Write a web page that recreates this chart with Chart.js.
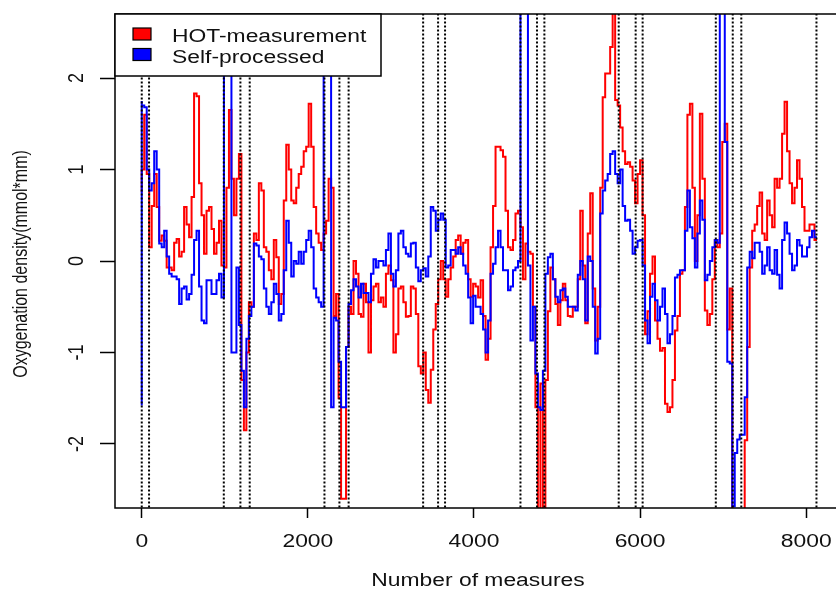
<!DOCTYPE html>
<html>
<head>
<meta charset="utf-8">
<script src="https://cdn.jsdelivr.net/npm/chart.js@4.4.1/dist/chart.umd.min.js"></script>
<style>
  html, body { margin: 0; padding: 0; background: #fff; overflow: hidden; }
  #wrap { width: 836px; height: 590px; overflow: hidden; }
</style>
</head>
<body>
<div id="wrap"><canvas id="chart" width="870" height="590"></canvas></div>
<script>
// samples every 30 measures
const step = 30;
const seriesNames = ["HOT-measurement", "Self-processed"];
const hotValues = [
  0.75, 1.0, 1.6, 0.95, 0.15, 0.6, 0.95, 0.59, 0.22, 0.28,
  0.22, -0.07, -0.07, -0.1, 0.2, 0.24, 0.05, 0.1, 0.59, 0.4,
  0.26, 0.7, 1.83, 1.8, 0.85, 0.5, 0.08, 0.55, 0.59, 0.35,
  0.08, 0.2, 0.44, -0.05, -0.07, 0.8, 1.65, 0.9, 0.5, 0.9,
  1.17, -1.3, -1.85, -1.0, -0.45, -0.5, 0.3, 0.23, 0.85, 0.77,
  0.15, 0.1, -0.1, -0.2, 0.23, 0.04, -0.47, -0.36, 0.66, 1.27,
  1.0, 0.66, 0.63, 0.8, 0.95, 1.03, 1.2, 1.25, 1.72, 1.25,
  0.59, 0.3, 0.2, 0.12, 0.3, 0.44, 0.9, 0.8, -0.6, -0.36,
  -1.5, -2.6, -2.6, -0.94, -0.5, -0.58, 0.0, -0.14, -0.58, -0.61,
  -0.25, -0.45, -1.0, -0.43, -0.28, -0.25, -0.45, -0.4, -0.5, -0.14,
  -0.05, -0.21, -1.0, -0.8, -0.3, -0.28, -0.45, -0.61, -0.6, -0.28,
  -0.3, -0.58, -1.15, -1.23, -1.0, -1.41, -1.55, -1.19, -0.75, -0.47,
  -0.2, 0.0, -0.2, -0.39, -0.2, -0.07, 0.05, 0.23, 0.28, 0.08,
  0.2, 0.23, -0.2, -0.39, -0.25, -0.28, -0.4, -0.21, -0.6, -1.08,
  -0.85, 0.15, 0.6, 1.25, 1.25, 1.21, 1.14, 0.55, 0.15, 0.12,
  0.23, 0.52, 0.55, 0.37, -0.2, 0.19, 0.1, 0.08, -0.5, -1.6,
  -2.9, -1.34, -2.9, -1.3, -0.55, -0.07, -0.2, -0.47, -0.7, -0.43,
  -0.25, -0.43, -0.6, -0.61, -0.5, -0.5, -0.2, 0.55, -0.05, -0.68,
  0.3, 0.74, -0.3, -0.87, -0.5, 0.8, 1.79, 2.05, 2.05, 2.34,
  2.75, 1.76, 1.7, 1.46, 1.2, 1.06, 1.08, 1.03, 0.88, 0.63,
  0.95, 1.1, 0.5, -0.8, -0.55, -0.14, 0.05, -0.65, -0.85, -0.98,
  -0.95, -1.56, -1.65, -1.6, -1.3, -0.76, -0.6, -0.14, -0.1, 0.59,
  1.6, 1.72, 0.8, 0.0, 0.5, 1.61, 0.9, -0.54, -0.7, -0.58,
  -0.2, 0.23, 0.15, 0.3, 1.3, 1.5, -0.75, -0.3, -2.9, -2.9,
  -2.9, -2.9, -2.9, -1.96, -0.94, -0.07, 0.33, 0.4, 0.6, 0.75,
  0.3, 0.23, 0.66, 0.5, 0.37, 0.9, 0.8, 0.9, 1.39, 1.74,
  1.2, 0.85, 0.63, 0.8, 1.1, 0.9, 0.59, 0.33, 0.33, 0.4,
  0.4, 0.23
];
const selfStart = -1.58;
const selfValues = [
  1.75, 1.7, 1.68, 1.0, 0.77, 0.85, 1.2, 1.0, 0.19, 0.15,
  0.33, 0.05, -0.14, -0.17, -0.17, -0.2, -0.47, -0.3, -0.28, -0.42,
  -0.36, -0.15, 0.23, 0.33, -0.28, -0.65, -0.68, -0.21, -0.21, -0.36,
  -0.36, -0.21, -0.14, -0.4, 4, 4, 4, -1.0, -1.0, -0.07,
  -0.7, -1.2, -1.6, -0.85, -0.6, -0.5, 0.19, 0.17, 0.05, 0.02,
  -0.3, -0.5, -0.58, -0.45, -0.25, -0.36, -0.65, -0.58, -0.1, 0.44,
  0.2, -0.17, 0.0, -0.03, 0.1, -0.03, 0.1, 0.23, 0.33, 0.15,
  -0.3, -0.4, -0.45, -0.5, 4, 4, 4, -1.6, -0.62, -0.65,
  -1.1, -1.6, -1.6, -0.94, -0.47, -0.32, -0.2, -0.28, -0.4, -0.25,
  -0.35, -0.35, -0.45, -0.14, 0.02, -0.07, 0.0, 0.0, -0.05, 0.12,
  0.3, -0.14, -0.28, -0.1, 0.3, 0.33, 0.15, 0.08, 0.05, 0.19,
  0.2, -0.07, -0.22, -0.1, -0.08, -0.17, 0.05, 0.59, 0.55, 0.33,
  0.45, 0.52, 0.45, -0.07, -0.05, 0.12, 0.12, 0.08, 0.15, 0.08,
  -0.05, -0.14, -0.4, -0.68, -0.38, -0.5, -0.5, -0.58, -0.75, -1.0,
  -0.65, -0.14, -0.03, 0.15, 0.33, 0.15, -0.1, -0.1, -0.32, -0.28,
  -0.1, -0.07, 0.0, 4, 4, 4, -0.05, -0.87, -0.5, -1.23,
  -1.6, -1.63, -1.2, -0.14, 0.04, 0.08, -0.2, -0.39, -0.45, -0.32,
  -0.3, -0.39, -0.5, -0.5, -0.5, -0.54, -0.15, 0.0, -0.2, -0.65,
  0.05, 0.0, -0.5, -1.01, -0.85, 0.52, 0.77, 0.88, 0.95, 1.17,
  1.2, 0.95, 0.85, 1.0, 0.6, 0.44, 0.45, 0.33, 0.08, 0.15,
  0.22, 0.23, -0.05, -0.65, -0.9, -0.39, -0.25, -0.43, -0.65, -0.5,
  -0.3, -0.58, -0.9, -0.8, -0.6, -0.18, -0.15, -0.1, -0.1, 0.33,
  0.77, 0.37, 0.25, -0.07, 0.3, 0.66, 0.45, -0.21, -0.15, 0.0,
  0.15, 0.23, 0.2, 4, 4, 1.3, -1.1, -1.12, -2.68, -2.1,
  -1.95, -1.9, -1.9, -1.49, -0.07, 0.1, 0.03, 0.2, 0.2, 0.1,
  -0.14, -0.05, 0.15, -0.1, -0.14, 0.12, -0.15, -0.3, 0.23, 0.42,
  0.3, 0.08, -0.1, -0.05, 0.23, 0.17, 0.05, 0.05, 0.15, 0.26,
  0.33, 0.26
];
// dotted vertical markers
const cutPoints = [0, 88, 988, 1188, 1300, 2200, 2380, 2491, 3388, 3568, 3652,
  4560, 4759, 4848, 5743, 5947, 6031, 6912, 7116, 7219, 8124];
const xTicks = [0, 2000, 4000, 6000, 8000];
const yTicks = [-2, -1, 0, 1, 2];
const xTitle = "Number of measures";
const yTitle = "Oxygenation density(mmol*mm)";
const yMin = -2.7, yMax = 2.7;

const hotPoints = hotValues.map((v, i) => ({ x: i * step, y: v }));
const selfPoints = [{ x: 0, y: selfStart }].concat(selfValues.map((v, i) => ({ x: i * step, y: v })));
const cutData = [];
cutPoints.forEach((c) => {
  cutData.push({ x: c, y: -3 }, { x: c, y: 3 }, { x: c, y: null });
});

const STRETCH = 1.27;
function drawText(ctx, text, x, y, size, align, rotated) {
  ctx.save();
  ctx.translate(x, y);
  ctx.scale(STRETCH, 1);
  if (rotated) ctx.rotate(-Math.PI / 2);
  ctx.font = size + 'px "Liberation Sans", Arial, sans-serif';
  ctx.textAlign = align;
  ctx.textBaseline = "alphabetic";
  ctx.fillStyle = "#111";
  ctx.fillText(text, 0, 0);
  ctx.restore();
}

// box, tick labels, titles and legend in the R look
const framePlugin = {
  id: "frame",
  afterDraw(chart) {
    const ctx = chart.ctx;
    const ca = chart.chartArea;
    ctx.save();
    ctx.strokeStyle = "#000";
    ctx.lineWidth = 1.5;
    ctx.strokeRect(ca.left, ca.top, ca.right - ca.left, ca.bottom - ca.top);
    ctx.restore();

    xTicks.forEach((t) => {
      drawText(ctx, String(t), chart.scales.x.getPixelForValue(t), 547, 18, "center", false);
    });
    yTicks.forEach((t) => {
      drawText(ctx, String(t), 83, chart.scales.y.getPixelForValue(t), 18, "center", true);
    });
    drawText(ctx, xTitle, 478, 586, 18, "center", false);
    drawText(ctx, yTitle, 27, 264, 16, "center", true);

    // legend
    const lx = ca.left, ly = ca.top;
    ctx.save();
    ctx.fillStyle = "#fff";
    ctx.fillRect(lx, ly, 266, 62);
    ctx.strokeStyle = "#000";
    ctx.lineWidth = 1.5;
    ctx.strokeRect(lx, ly, 266, 62);
    const colors = ["#ff0000", "#0000ff"];
    seriesNames.forEach((name, i) => {
      const y = ly + 14 + i * 20.5;
      ctx.fillStyle = colors[i];
      ctx.fillRect(lx + 18, y, 18, 12);
      ctx.strokeStyle = "#000";
      ctx.lineWidth = 1.2;
      ctx.strokeRect(lx + 18, y, 18, 12);
      drawText(ctx, name, lx + 57, y + 14, 18, "left", false);
    });
    ctx.restore();
  }
};

const ctx = document.getElementById("chart").getContext("2d");
const chart = new Chart(ctx, {
  type: "line",
  data: {
    datasets: [
      {
        label: seriesNames[0],
        data: hotPoints,
        borderColor: "#ff0000",
        borderWidth: 2,
        stepped: "after",
        pointRadius: 0,
        clip: 0,
        order: 3,
      },
      {
        label: seriesNames[1],
        data: selfPoints,
        borderColor: "#0000ff",
        borderWidth: 2,
        stepped: "after",
        pointRadius: 0,
        clip: 0,
        order: 2,
      },
      {
        label: "cuts",
        data: cutData,
        borderColor: "#000",
        borderWidth: 2,
        borderDash: [2, 2],
        pointRadius: 0,
        spanGaps: false,
        clip: 0,
        order: 1,
      },
    ],
  },
  options: {
    responsive: false,
    animation: false,
    devicePixelRatio: 1,
    layout: { padding: { left: 0, top: 14, right: 14, bottom: 0 } },
    plugins: { legend: { display: false }, tooltip: { enabled: false } },
    scales: {
      x: {
        type: "linear",
        min: -322,
        max: 8600,
        afterFit: (scale) => { scale.height = 82; },
        afterBuildTicks: (scale) => { scale.ticks = xTicks.map((v) => ({ value: v })); },
        ticks: { display: false },
        grid: { drawOnChartArea: false, drawTicks: true, tickLength: 10, tickColor: "#000", tickWidth: 1.5 },
        border: { display: false },
      },
      y: {
        min: yMin,
        max: yMax,
        afterFit: (scale) => { scale.width = 115; },
        afterBuildTicks: (scale) => { scale.ticks = yTicks.map((v) => ({ value: v })); },
        ticks: { display: false },
        grid: { drawOnChartArea: false, drawTicks: true, tickLength: 15, tickColor: "#000", tickWidth: 1.5 },
        border: { display: false },
      },
    },
  },
  plugins: [framePlugin],
});
</script>
</body>
</html>
